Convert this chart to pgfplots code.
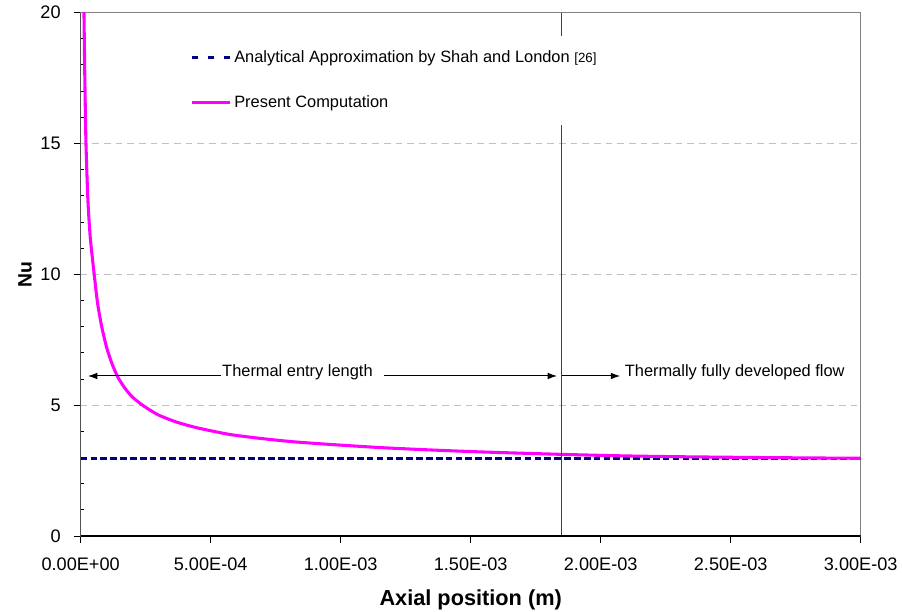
\documentclass[border=0pt]{standalone}
\usepackage{fontspec}
\setmainfont{Liberation Sans}
\usepackage{pgfplots}
\pgfplotsset{compat=1.18}
\usetikzlibrary{arrows.meta}
\definecolor{navyline}{RGB}{0,0,128}
\definecolor{magline}{RGB}{255,0,255}
\definecolor{vline}{RGB}{64,64,64}
\definecolor{gridc}{RGB}{192,192,192}
\definecolor{framec}{RGB}{128,128,128}
\begin{document}
\begin{tikzpicture}
\begin{axis}[
  at={(0,0)}, anchor=south west,
  scale only axis, width=585pt, height=392.5pt,
  xmin=0, xmax=3e-3, ymin=0, ymax=20,
  xtick={0,5e-4,1e-3,1.5e-3,2e-3,2.5e-3,3e-3},
  xticklabels={0.00E+00,5.00E-04,1.00E-03,1.50E-03,2.00E-03,2.50E-03,3.00E-03},
  scaled x ticks=false,
  ytick={0,5,10,15,20},
  minor y tick num=4,
  tick align=outside,
  major tick length=5pt, minor tick length=2.5pt,
  tick style={black, line width=0.75pt},
  minor y tick style={xshift=2.5pt},
  xtick pos=bottom, ytick pos=left,
  axis line style={draw=framec, line width=1pt},
  ymajorgrids,
  major grid style={gridc, dash pattern=on 5pt off 3.75pt, line width=0.75pt},
  ticklabel style={font=\fontsize{13.6}{16}\selectfont},
  /pgf/number format/assume math mode=true,
  yticklabel style={xshift=-6.5pt},
  xticklabel style={yshift=-8pt},
  xlabel={Axial position (m)},
  xlabel style={at={(rel axis cs:0.5,-0.1319)}, anchor=base, font=\bfseries\fontsize{16.3}{19}\selectfont},
  ylabel={Nu},
  ylabel style={at={(rel axis cs:-0.0628,0.5)}, anchor=base, font=\bfseries\fontsize{14.5}{17}\selectfont},
  legend style={at={(rel axis cs:0.1337,0.948)}, anchor=north west, draw=none, fill=white,
    font=\fontsize{12.3}{14}\selectfont, row sep=19pt, inner xsep=4pt, inner ysep=6pt,
    /tikz/every even column/.append style={column sep=2pt}},
  legend cell align=left,
  legend image code/.code={\draw[#1] (0pt,0pt) -- (28.5pt,0pt);},
]
\addplot[navyline, line width=2.2pt, dash pattern=on 5pt off 2.4pt,
  legend image post style={dash pattern=on 4.5pt off 7.5pt}] coordinates {(0,2.97) (3e-3,2.97)};
\addlegendentry{Analytical Approximation by Shah and London {\fontsize{10}{12}\selectfont [26]}}
\addplot[magline, line width=2.3pt, smooth, tension=0.4] coordinates {
(1.05e-5,22) (1.27e-5,20) (1.6e-5,17.5) (2.04e-5,15) (2.8e-5,12.8) (3.7e-5,11.4)
(5.2e-5,10) (6.5e-5,8.9) (8.1e-5,8.0) (1.0e-4,7.2) (1.2e-4,6.6) (1.42e-4,6.09)
(1.7e-4,5.65) (2.0e-4,5.3) (2.45e-4,4.95) (3.0e-4,4.62) (3.7e-4,4.35) (4.5e-4,4.13)
(5.74e-4,3.88) (7.0e-4,3.72) (8.2e-4,3.6) (9.59e-4,3.5) (1.151e-3,3.38) (1.343e-3,3.29)
(1.55e-3,3.21) (1.85e-3,3.12) (2.1e-3,3.06) (2.305e-3,3.03) (2.6e-3,3.0) (3.0e-3,2.97)};
\addlegendentry{Present Computation}
\addplot[vline, line width=1.2pt, forget plot] coordinates {(1.85e-3,20) (1.85e-3,19.11)};
\addplot[vline, line width=1.2pt, forget plot] coordinates {(1.85e-3,15.71) (1.85e-3,0)};
\draw[black, line width=1pt] (rel axis cs:0,1) -- (rel axis cs:0,0) -- (rel axis cs:1,0);
\draw[-{Latex[length=7pt,width=5pt]}, line width=0.75pt] (axis cs:0.54e-3,6.115) -- (axis cs:0.028e-3,6.115);
\node[anchor=base west, inner sep=0pt, font=\fontsize{12.3}{14}\selectfont] at (axis cs:0.5435e-3,6.096) {Thermal entry length};
\draw[-{Latex[length=7pt,width=5pt]}, line width=0.75pt] (axis cs:1.167e-3,6.115) -- (axis cs:1.832e-3,6.115);
\draw[-{Latex[length=7pt,width=5pt]}, line width=0.75pt] (axis cs:1.851e-3,6.115) -- (axis cs:2.075e-3,6.115);
\node[anchor=base west, inner sep=0pt, font=\fontsize{12.3}{14}\selectfont] at (axis cs:2.092e-3,6.096) {Thermally fully developed flow};
\end{axis}
\pgfresetboundingbox
\path (-60.5pt,-56.25pt) rectangle (616pt,402pt);
\end{tikzpicture}
\end{document}
